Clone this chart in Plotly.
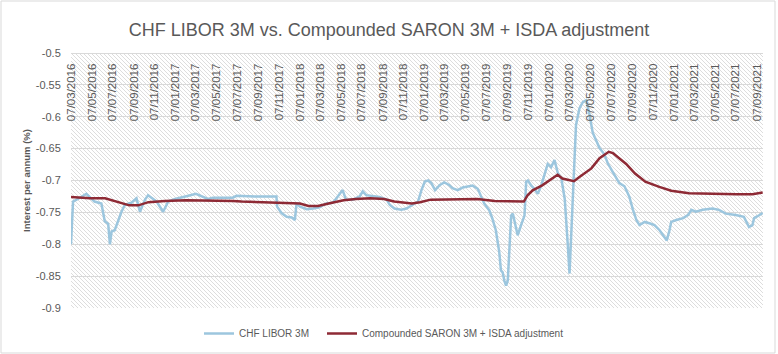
import base64
import pandas as pd
import plotly.graph_objects as go

title_text = "CHF LIBOR 3M vs. Compounded SARON 3M + ISDA adjustment"
libor_name = "CHF LIBOR 3M"
saron_name = "Compounded SARON 3M + ISDA adjustment"
y_title = "Interest per annum (%)"

libor_dates = [
    "2016-03-07", "2016-03-13", "2016-03-27", "2016-04-21", "2016-05-15", "2016-06-04",
    "2016-06-14", "2016-06-24", "2016-06-29", "2016-07-04", "2016-07-13", "2016-07-23",
    "2016-08-02", "2016-08-12", "2016-08-31", "2016-09-15", "2016-09-25", "2016-10-10",
    "2016-10-19", "2016-11-13", "2016-11-23", "2016-12-02", "2016-12-17", "2017-01-06",
    "2017-02-14", "2017-03-08", "2017-04-12", "2017-04-27", "2017-06-24", "2017-07-05",
    "2017-08-28", "2017-10-30", "2017-11-01", "2017-11-14", "2017-11-29", "2017-12-14",
    "2017-12-23", "2017-12-28", "2018-01-07", "2018-01-27", "2018-02-15", "2018-03-05",
    "2018-03-25", "2018-04-13", "2018-04-24", "2018-05-08", "2018-05-12", "2018-05-22",
    "2018-06-11", "2018-07-01", "2018-07-10", "2018-07-20", "2018-08-09", "2018-08-28",
    "2018-09-18", "2018-09-27", "2018-10-11", "2018-10-31", "2018-11-15", "2018-12-04",
    "2018-12-19", "2018-12-29", "2019-01-08", "2019-01-18", "2019-01-27", "2019-02-07",
    "2019-02-21", "2019-03-06", "2019-03-20", "2019-03-30", "2019-04-14", "2019-04-29",
    "2019-05-18", "2019-05-28", "2019-06-12", "2019-06-22", "2019-07-01", "2019-07-16",
    "2019-07-25", "2019-08-04", "2019-08-14", "2019-08-19", "2019-08-24", "2019-08-29",
    "2019-09-03", "2019-09-08", "2019-09-13", "2019-09-18", "2019-09-23", "2019-09-28",
    "2019-10-07", "2019-10-17", "2019-10-27", "2019-11-01", "2019-11-06", "2019-11-16",
    "2019-11-25", "2019-12-05", "2019-12-15", "2019-12-24", "2020-01-03", "2020-01-13",
    "2020-01-23", "2020-02-02", "2020-02-12", "2020-02-22", "2020-02-27", "2020-03-02",
    "2020-03-07", "2020-03-11", "2020-03-16", "2020-03-21", "2020-03-26", "2020-04-05",
    "2020-04-15", "2020-04-25", "2020-05-04", "2020-05-14", "2020-05-24", "2020-06-03",
    "2020-06-17", "2020-06-27", "2020-07-11", "2020-07-31", "2020-08-15", "2020-08-29",
    "2020-09-09", "2020-09-19", "2020-09-28", "2020-10-13", "2020-10-27", "2020-11-11",
    "2020-11-26", "2020-12-10", "2020-12-17", "2020-12-25", "2020-12-30", "2021-01-14",
    "2021-02-03", "2021-02-18", "2021-02-27", "2021-03-12", "2021-04-01", "2021-04-30",
    "2021-05-19", "2021-06-08", "2021-07-07", "2021-07-31", "2021-08-15", "2021-08-25",
    "2021-08-30", "2021-09-09", "2021-09-24",
]
libor_values = [
    -0.800, -0.733, -0.729, -0.721, -0.733, -0.736,
    -0.764, -0.768, -0.800, -0.780, -0.778, -0.762,
    -0.749, -0.738, -0.735, -0.728, -0.749, -0.730,
    -0.723, -0.733, -0.741, -0.749, -0.733, -0.729,
    -0.724, -0.721, -0.729, -0.727, -0.727, -0.724,
    -0.725, -0.725, -0.741, -0.751, -0.757, -0.758,
    -0.762, -0.736, -0.741, -0.745, -0.744, -0.742,
    -0.736, -0.735, -0.728, -0.717, -0.715, -0.730,
    -0.730, -0.725, -0.717, -0.723, -0.724, -0.726,
    -0.730, -0.738, -0.744, -0.746, -0.744, -0.738,
    -0.733, -0.715, -0.7015, -0.700, -0.704, -0.715,
    -0.707, -0.703, -0.707, -0.712, -0.715, -0.711,
    -0.709, -0.708, -0.713, -0.726, -0.736, -0.747,
    -0.760, -0.778, -0.812, -0.841, -0.844, -0.857,
    -0.865, -0.857, -0.807, -0.755, -0.752, -0.765,
    -0.786, -0.770, -0.755, -0.702, -0.700, -0.708,
    -0.713, -0.721, -0.708, -0.692, -0.674, -0.679,
    -0.668, -0.689, -0.697, -0.729, -0.765, -0.802,
    -0.846, -0.802, -0.729, -0.676, -0.613, -0.587,
    -0.577, -0.574, -0.595, -0.625, -0.636, -0.649,
    -0.659, -0.673, -0.686, -0.704, -0.709, -0.725,
    -0.746, -0.762, -0.770, -0.765, -0.767, -0.770,
    -0.778, -0.788, -0.794, -0.778, -0.765, -0.762,
    -0.759, -0.754, -0.746, -0.749, -0.746, -0.744,
    -0.746, -0.752, -0.754, -0.757, -0.773, -0.770,
    -0.759, -0.756, -0.751,
]

saron_dates = [
    "2016-03-07", "2016-05-01", "2016-06-15", "2016-07-20", "2016-08-25", "2016-09-20",
    "2016-10-20", "2016-12-07", "2017-02-07", "2017-06-24", "2017-07-20", "2017-09-20",
    "2017-12-01", "2018-01-07", "2018-02-01", "2018-03-01", "2018-04-01", "2018-05-15",
    "2018-06-20", "2018-08-01", "2018-09-10", "2018-10-10", "2018-12-01", "2018-12-25",
    "2019-01-25", "2019-04-01", "2019-06-10", "2019-08-01", "2019-10-25", "2019-11-05",
    "2019-11-20", "2019-12-18", "2020-01-07", "2020-02-01", "2020-02-15", "2020-03-20",
    "2020-04-05", "2020-05-10", "2020-06-03", "2020-06-30", "2020-07-12", "2020-08-20",
    "2020-09-15", "2020-10-15", "2020-11-25", "2020-12-30", "2021-02-20", "2021-04-20",
    "2021-07-10", "2021-08-25", "2021-09-24",
]
saron_values = [
    -0.726, -0.728, -0.728, -0.734, -0.739, -0.739,
    -0.734, -0.732, -0.731, -0.732, -0.733, -0.734,
    -0.735, -0.736, -0.740, -0.740, -0.736, -0.731,
    -0.729, -0.728, -0.729, -0.733, -0.736, -0.734,
    -0.730, -0.729, -0.729, -0.732, -0.733, -0.7233,
    -0.7155, -0.7076, -0.700, -0.691, -0.697, -0.701,
    -0.6945, -0.681, -0.665, -0.655, -0.657, -0.674,
    -0.689, -0.702, -0.710, -0.716, -0.720, -0.721,
    -0.7216, -0.7215, -0.719,
]

tick_dates = [
    "2016-03-07", "2016-05-07", "2016-07-07", "2016-09-07", "2016-11-07",
    "2017-01-07", "2017-03-07", "2017-05-07", "2017-07-07", "2017-09-07", "2017-11-07",
    "2018-01-07", "2018-03-07", "2018-05-07", "2018-07-07", "2018-09-07", "2018-11-07",
    "2019-01-07", "2019-03-07", "2019-05-07", "2019-07-07", "2019-09-07", "2019-11-07",
    "2020-01-07", "2020-03-07", "2020-05-07", "2020-07-07", "2020-09-07", "2020-11-07",
    "2021-01-07", "2021-03-07", "2021-05-07", "2021-07-07", "2021-09-07",
]
tick_labels = [pd.Timestamp(d).strftime("%d/%m/%Y") for d in tick_dates]

y_ticks = [-0.9, -0.85, -0.8, -0.75, -0.7, -0.65, -0.6, -0.55, -0.5]
y_tick_labels = ["-0.9", "-0.85", "-0.8", "-0.75", "-0.7", "-0.65", "-0.6", "-0.55", "-0.5"]

FONT = "Liberation Sans"
GREY = "#595959"

# hatched plot background (decoration only)
pat_w, pat_h = 692, 255
svg = (
    f'<svg xmlns="http://www.w3.org/2000/svg" width="{pat_w}" height="{pat_h}">'
    '<defs><pattern id="h" width="4" height="4" patternUnits="userSpaceOnUse">'
    '<path d="M-1,-1 L5,5 M3,-1 L5,1 M-1,3 L1,5" stroke="#d9d9d9" stroke-width="0.9"/>'
    '</pattern></defs>'
    f'<rect width="{pat_w}" height="{pat_h}" fill="#ffffff"/>'
    f'<rect width="{pat_w}" height="{pat_h}" fill="url(#h)"/></svg>'
)
svg_uri = "data:image/svg+xml;base64," + base64.b64encode(svg.encode()).decode()

fig = go.Figure()
fig.add_trace(go.Scatter(
    x=pd.to_datetime(libor_dates), y=libor_values, mode="lines", name=libor_name,
    line=dict(color="#9CC6DE", width=2.5), legend="legend",
))
fig.add_trace(go.Scatter(
    x=pd.to_datetime(saron_dates), y=saron_values, mode="lines", name=saron_name,
    line=dict(color="#8E2A35", width=2.5), legend="legend2",
))

legend_common = dict(orientation="h", xanchor="left", y=-0.1, yanchor="middle",
                     font=dict(family=FONT, size=10, color=GREY), itemwidth=30,
                     bgcolor="rgba(0,0,0,0)")

fig.update_layout(
    width=778, height=354,
    margin=dict(l=71, r=15, t=53, b=46, autoexpand=False),
    paper_bgcolor="white",
    plot_bgcolor="rgba(0,0,0,0)",
    font=dict(family=FONT, color=GREY, size=11),
    title=dict(text=title_text, x=0.5, xanchor="center", y=0.915, yanchor="middle",
               font=dict(family=FONT, size=18, color=GREY)),
    showlegend=True,
    legend=dict(x=(199 - 71) / 692, **legend_common),
    legend2=dict(x=(322 - 71) / 692, **legend_common),
    images=[dict(source=svg_uri, xref="paper", yref="paper", x=0, y=1,
                 sizex=1, sizey=1, xanchor="left", yanchor="top",
                 sizing="stretch", layer="below")],
    shapes=[dict(type="rect", xref="paper", yref="paper",
                 x0=(1 - 71) / 692, x1=(775 - 71) / 692,
                 y0=(308 - 353) / 255, y1=(308 - 1) / 255,
                 line=dict(color="#d9d9d9", width=1), fillcolor="rgba(0,0,0,0)",
                 layer="below")],
)

fig.update_xaxes(
    type="date", range=["2016-03-07", "2021-09-25"],
    anchor="free", position=1, side="bottom",
    tickmode="array", tickvals=pd.to_datetime(tick_dates), ticktext=tick_labels,
    tickangle=-90, tickfont=dict(family=FONT, size=11.5, color=GREY),
    showgrid=False, showline=True, linecolor="#d9d9d9", linewidth=1,
    ticks="outside", ticklen=5, tickcolor="rgba(0,0,0,0)",
    zeroline=False, automargin=False,
)
fig.update_yaxes(
    range=[-0.9, -0.5], tickmode="array", tickvals=y_ticks, ticktext=y_tick_labels,
    tickfont=dict(family=FONT, size=11, color=GREY),
    showgrid=True, gridcolor="#d9d9d9", gridwidth=1, zeroline=False,
    showline=False, ticks="outside", ticklen=7, tickcolor="rgba(0,0,0,0)",
    automargin=False,
    title=dict(text="<b>" + y_title + "</b>", font=dict(family=FONT, size=9.5, color=GREY),
               standoff=3),
)

fig.write_html("out.html")
